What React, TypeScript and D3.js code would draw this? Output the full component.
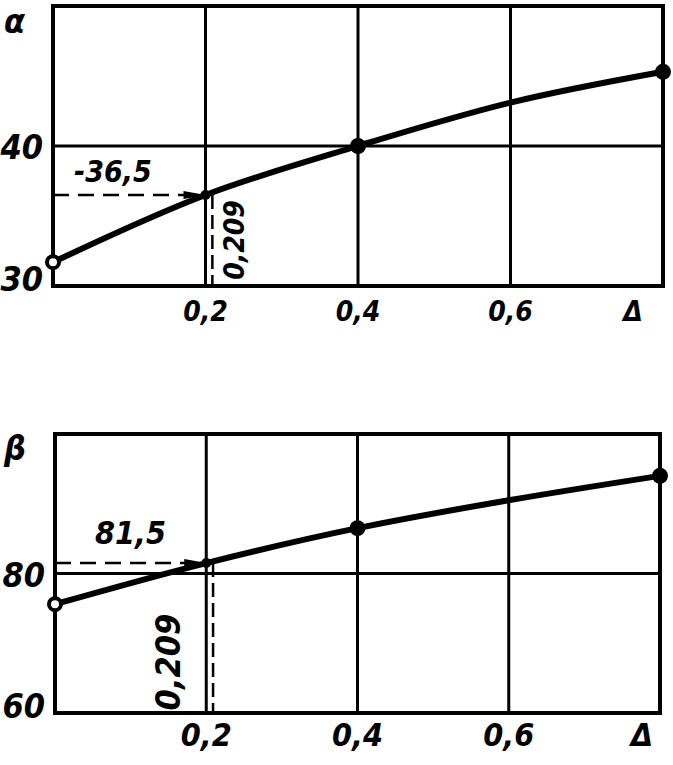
import * as d3 from 'd3';

// Δ on the horizontal axis, α and β
const deltaValues = [0, 0.2, 0.4, 0.6, 0.8];
const alphaValues = [31.7, 36.5, 40, 43.1, 45.3];
const betaValues = [75.6, 81.5, 86.5, 90.5, 94.0];
const markedDeltas = [0, 0.2, 0.4, 0.8];
const xTicks = [0.2, 0.4, 0.6];
const alphaTicks = [30, 40];
const betaTicks = [60, 80];
const alphaDomain = [30, 50];
const betaDomain = [60, 100];
const readDelta = 0.209;
const readAlpha = 36.5;
const readBeta = 81.5;

const W = 673;
const H = 765;
const FONT = '"DejaVu Sans Condensed", "Liberation Sans Narrow", sans-serif';

const ru = d3.formatLocale({ decimal: ',', thousands: ' ', grouping: [3], currency: ['', ''] });
const fmt = ru.format('.1f');
const fmt3 = ru.format('.3f');

interface PanelProps {
  values: number[];
  domain: number[];
  ticks: number[];
  symbol: string;
  readValue: number;
  box: { left: number; right: number; top: number; bottom: number };
  xLabelSize: number;
  xLabelBase: number;
  symbolY: number;
  rotLabel: { dx: number; cy: number; size: number };
  readLabel: { x: number; dy: number; size: number; prefix: string };
  deltaDx: number;
}

const Panel = ({ values, domain, ticks, symbol, readValue, box, xLabelSize, xLabelBase, symbolY, rotLabel, readLabel, deltaDx }: PanelProps) => {
  const x = d3.scaleLinear().domain([0, 0.8]).range([box.left, box.right]);
  const y = d3.scaleLinear().domain(domain).range([box.bottom, box.top]);
  const pts = deltaValues.map((d, i) => [x(d), y(values[i])] as [number, number]);
  const line = d3.line().curve(d3.curveCatmullRom.alpha(0.5))(pts) || '';
  const textStyle = { fontFamily: FONT, fontStyle: 'italic', fontWeight: 'bold' as const };

  return (
    <g>
      {/* grid */}
      {xTicks.map(t => (
        <line key={'vx' + t} x1={x(t)} x2={x(t)} y1={y.range()[1]} y2={y.range()[0]} stroke="#000" strokeWidth={3} />
      ))}
      {ticks.slice(1).map(t => (
        <line key={'hy' + t} x1={box.left} x2={box.right} y1={y(t)} y2={y(t)} stroke="#000" strokeWidth={3} />
      ))}
      {/* frame */}
      <rect x={box.left} y={box.top} width={box.right - box.left} height={box.bottom - box.top} fill="none" stroke="#000" strokeWidth={4} />

      {/* reading lines */}
      <line x1={box.left} x2={x(0.2) - 12} y1={y(readValue)} y2={y(readValue)} stroke="#000" strokeWidth={2.5} strokeDasharray="16,9" />
      <path d={`M${x(0.2) - 22},${y(readValue) - 4} L${x(0.2)},${y(readValue)} L${x(0.2) - 22},${y(readValue) + 4} Z`} fill="#000" />
      <line x1={x(readDelta)} x2={x(readDelta)} y1={y(readValue)} y2={box.bottom} stroke="#000" strokeWidth={2.5} strokeDasharray="14,6" />

      {/* curve */}
      <path d={line} fill="none" stroke="#000" strokeWidth={6} strokeLinejoin="round" />
      {markedDeltas.map(d => {
        const i = deltaValues.indexOf(d);
        const big = d >= 0.4;
        const open = d === 0;
        return (
          <circle key={'m' + d} cx={x(d)} cy={y(values[i])} r={big ? 8 : open ? 6 : 5}
            fill={open ? '#fff' : '#000'} stroke="#000" strokeWidth={open ? 4 : 0} />
        );
      })}

      {/* y labels */}
      {ticks.map((t, i) => (
        <text key={'yl' + t} x={box.left - 10} y={y(t) + (i === 0 ? 5 : 13)} textAnchor="end" fontSize={34} {...textStyle}>
          {String(t)}
        </text>
      ))}
      <text x={4} y={symbolY} fontSize={34} {...textStyle}>{symbol}</text>

      {/* x labels */}
      {xTicks.map(t => (
        <text key={'xl' + t} x={x(t)} y={xLabelBase} textAnchor="middle" fontSize={xLabelSize} {...textStyle}>
          {fmt(t)}
        </text>
      ))}
      <text x={x(0.8) + deltaDx} y={xLabelBase} textAnchor="middle" fontSize={xLabelSize} {...textStyle}>Δ</text>

      {/* annotations */}
      <text x={readLabel.x} y={y(readValue) + readLabel.dy} fontSize={readLabel.size} {...textStyle}>
        {readLabel.prefix + fmt(readValue)}
      </text>
      <text
        transform={`translate(${x(readDelta) + rotLabel.dx},${rotLabel.cy}) rotate(-90)`}
        textAnchor="middle"
        fontSize={rotLabel.size}
        {...textStyle}
      >
        {fmt3(readDelta)}
      </text>
    </g>
  );
};

export default function App() {
  return (
    <svg width={W} height={H} style={{ position: 'absolute', left: 0, top: 0, background: '#fff' }}>
      <rect width={W} height={H} fill="#fff" />
      <Panel
        values={alphaValues}
        domain={alphaDomain}
        ticks={alphaTicks}
        symbol="α"
        readValue={readAlpha}
        box={{ left: 53, right: 663, top: 6, bottom: 286 }}
        xLabelSize={28}
        xLabelBase={321}
        symbolY={33}
        rotLabel={{ dx: 32, cy: 240, size: 28 }}
        readLabel={{ x: 74, dy: -13, size: 30, prefix: '-' }}
        deltaDx={-30}
      />
      <Panel
        values={betaValues}
        domain={betaDomain}
        ticks={betaTicks}
        symbol="β"
        readValue={readBeta}
        box={{ left: 55, right: 660, top: 434, bottom: 713 }}
        xLabelSize={32}
        xLabelBase={746}
        symbolY={460}
        rotLabel={{ dx: -33, cy: 662, size: 34 }}
        readLabel={{ x: 95, dy: -19, size: 32, prefix: '' }}
        deltaDx={-18}
      />
    </svg>
  );
}
